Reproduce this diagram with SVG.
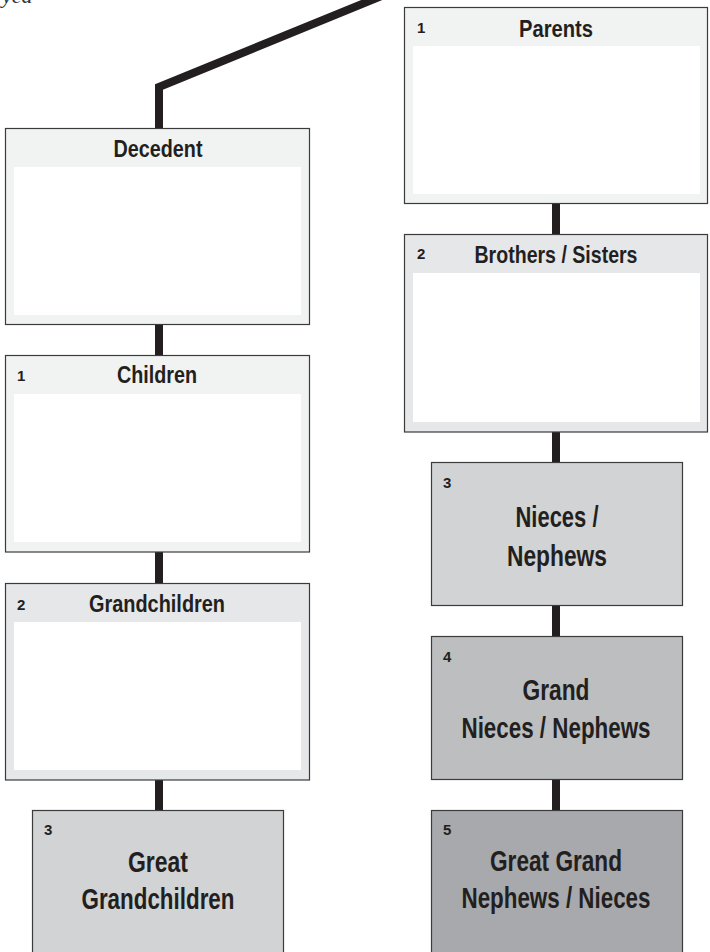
<svg xmlns="http://www.w3.org/2000/svg" width="710" height="952" viewBox="0 0 710 952">
<style>
.box{stroke:#3b3b3c;stroke-width:1.2}
.hdr1{fill:#f1f2f2}
.hdr2{fill:#e6e7e8}
.inner{fill:#ffffff}
.g1{fill:#d1d3d4}
.g2{fill:#bcbec0}
.g3{fill:#a7a9ac}
.t{font-family:"Liberation Sans",Arial,sans-serif;font-weight:bold;fill:#231f20;text-anchor:middle}
.title{font-size:24px}
.big{font-size:29px}
.num{font-family:"Liberation Sans",Arial,sans-serif;font-weight:bold;fill:#231f20;font-size:15px}
.conn{fill:none;stroke:#231f20;stroke-width:8;stroke-linejoin:miter}
</style>
<rect width="710" height="952" fill="#ffffff"/>
<text x="2" y="3" font-family="'Liberation Serif',serif" font-style="italic" font-size="22" fill="#333">yed</text>
<g id="connectors">
<polyline class="conn" points="159,128 159,87 384,-5"/>
<line class="conn" x1="159" y1="324" x2="159" y2="356"/>
<line class="conn" x1="159" y1="552" x2="159" y2="584"/>
<line class="conn" x1="159" y1="780" x2="159" y2="811"/>
<line class="conn" x1="556" y1="203" x2="556" y2="235"/>
<line class="conn" x1="556" y1="432" x2="556" y2="463"/>
<line class="conn" x1="556" y1="605" x2="556" y2="637"/>
<line class="conn" x1="556" y1="779" x2="556" y2="811"/>
</g>
<g id="decedent">
<rect class="box hdr1" x="5.5" y="128.5" width="304" height="196"/>
<rect class="inner" x="14" y="167" width="287" height="148"/>
<text class="t title" x="158" y="157" textLength="89" lengthAdjust="spacingAndGlyphs">Decedent</text>
</g>
<g id="children">
<rect class="box hdr1" x="5.5" y="355.5" width="304" height="196.5"/>
<rect class="inner" x="14" y="394" width="287" height="148"/>
<text class="num" x="17" y="381">1</text>
<text class="t title" x="157" y="383" textLength="80" lengthAdjust="spacingAndGlyphs">Children</text>
</g>
<g id="grandchildren">
<rect class="box hdr2" x="5.5" y="583.5" width="304" height="196.5"/>
<rect class="inner" x="14" y="622" width="287" height="148"/>
<text class="num" x="17" y="610">2</text>
<text class="t title" x="157" y="612" textLength="136" lengthAdjust="spacingAndGlyphs">Grandchildren</text>
</g>
<g id="great-grandchildren">
<rect class="box g1" x="32.5" y="810.5" width="251" height="150"/>
<text class="num" x="44" y="835">3</text>
<text class="t big" x="158" y="872" textLength="60" lengthAdjust="spacingAndGlyphs">Great</text>
<text class="t big" x="158" y="909" textLength="153" lengthAdjust="spacingAndGlyphs">Grandchildren</text>
</g>
<g id="parents">
<rect class="box hdr1" x="404.5" y="7.5" width="303" height="196"/>
<rect class="inner" x="413" y="46" width="287" height="148"/>
<text class="num" x="417" y="33">1</text>
<text class="t title" x="556" y="37" textLength="74" lengthAdjust="spacingAndGlyphs">Parents</text>
</g>
<g id="brothers-sisters">
<rect class="box hdr2" x="404.5" y="234.5" width="303" height="197.5"/>
<rect class="inner" x="413" y="273" width="287" height="149"/>
<text class="num" x="417" y="259">2</text>
<text class="t title" x="556" y="263" textLength="163" lengthAdjust="spacingAndGlyphs">Brothers / Sisters</text>
</g>
<g id="nieces-nephews">
<rect class="box g1" x="431.5" y="462.5" width="251" height="143"/>
<text class="num" x="443" y="488">3</text>
<text class="t big" x="557" y="527" textLength="83" lengthAdjust="spacingAndGlyphs">Nieces /</text>
<text class="t big" x="557" y="566" textLength="100" lengthAdjust="spacingAndGlyphs">Nephews</text>
</g>
<g id="grand-nieces-nephews">
<rect class="box g2" x="431.5" y="636.5" width="251" height="143"/>
<text class="num" x="443" y="662">4</text>
<text class="t big" x="556" y="700" textLength="67" lengthAdjust="spacingAndGlyphs">Grand</text>
<text class="t big" x="556" y="738" textLength="189" lengthAdjust="spacingAndGlyphs">Nieces / Nephews</text>
</g>
<g id="great-grand-nephews-nieces">
<rect class="box g3" x="431.5" y="810.5" width="251" height="150"/>
<text class="num" x="443" y="835">5</text>
<text class="t big" x="556" y="871" textLength="132" lengthAdjust="spacingAndGlyphs">Great Grand</text>
<text class="t big" x="556" y="908" textLength="189" lengthAdjust="spacingAndGlyphs">Nephews / Nieces</text>
</g>
</svg>
